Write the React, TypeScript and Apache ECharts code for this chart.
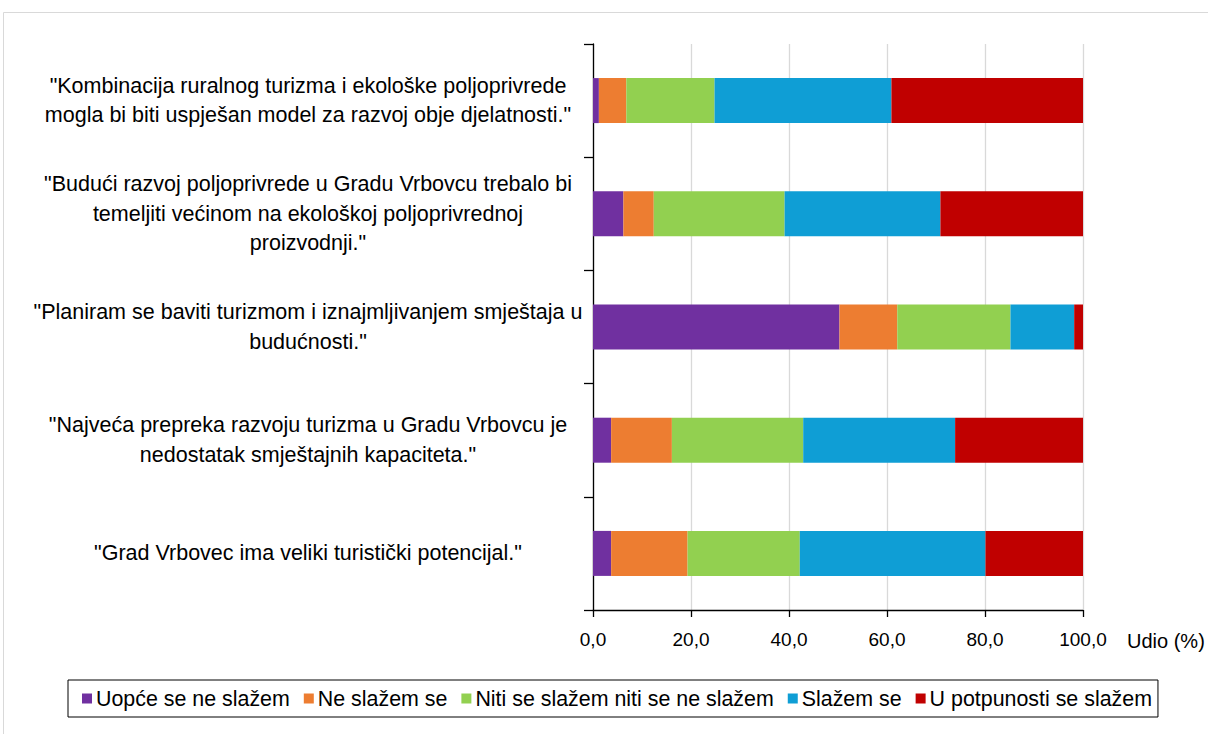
import React, { useEffect, useRef } from "react";
import * as echarts from "echarts";

const categories = [
  '"Kombinacija ruralnog turizma i ekološke poljoprivrede\nmogla bi biti uspješan model za razvoj obje djelatnosti."',
  '"Budući razvoj poljoprivrede u Gradu Vrbovcu trebalo bi\ntemeljiti većinom na ekološkoj poljoprivrednoj\nproizvodnji."',
  '"Planiram se baviti turizmom i iznajmljivanjem smještaja u\nbudućnosti."',
  '"Najveća prepreka razvoju turizma u Gradu Vrbovcu je\nnedostatak smještajnih kapaciteta."',
  '"Grad Vrbovec ima veliki turistički potencijal."',
];

const seriesNames = [
  "Uopće se ne slažem",
  "Ne slažem se",
  "Niti se slažem niti se ne slažem",
  "Slažem se",
  "U potpunosti se slažem",
];

const uopce = [1.2, 6.2, 50.3, 3.7, 3.7];
const neSlazem = [5.6, 6.2, 11.8, 12.4, 15.6];
const niti = [18.0, 26.7, 23.1, 26.8, 22.9];
const slazem = [36.1, 31.8, 13.0, 31.0, 37.9];
const potpuno = [39.1, 29.1, 1.8, 26.1, 19.9];

const seriesValues = [uopce, neSlazem, niti, slazem, potpuno];
const colors = ["#7030a0", "#ed7d31", "#92d050", "#0f9ed5", "#c00000"];

const FONT = "'Liberation Sans', Arial, sans-serif";

export default function App() {
  const ref = useRef<HTMLDivElement>(null);
  useEffect(() => {
    if (!ref.current) return;
    const chart = echarts.init(ref.current, undefined, { renderer: "svg" });
    chart.setOption({
      animation: false,
      backgroundColor: "#ffffff",
      textStyle: { fontFamily: FONT },
      graphic: [
        {
          type: "rect",
          shape: { x: 3.5, y: 12.5, width: 1240, height: 760 },
          style: { fill: "none", stroke: "#d9d9d9", lineWidth: 1 },
          silent: true,
        },
        {
          type: "text",
          left: 1127,
          top: 631,
          style: { text: "Udio (%)", fontSize: 20, fill: "#000", fontFamily: FONT },
        },
      ],
      legend: {
        left: 68,
        top: 680,
        data: seriesNames,
        borderColor: "#000",
        borderWidth: 1,
        padding: [8, 6, 8, 14],
        itemWidth: 10,
        itemHeight: 10,
        itemGap: 14,
        icon: "rect",
        textStyle: { fontSize: 21.4, color: "#000", fontFamily: FONT, padding: [0, 0, 0, -1] },
      },
      grid: { left: 593, right: 125, top: 44, bottom: 124, containLabel: false },
      xAxis: {
        type: "value",
        min: 0,
        max: 100,
        interval: 20,
        axisLine: { show: true, lineStyle: { color: "#000", width: 1.3 } },
        axisTick: { show: true, length: 7, lineStyle: { color: "#000", width: 1.3 } },
        splitLine: { show: true, lineStyle: { color: "#d9d9d9", width: 1.3 } },
        axisLabel: {
          fontSize: 19,
          color: "#000",
          margin: 20,
          fontFamily: FONT,
          formatter: (v: number) => v.toFixed(1).replace(".", ","),
        },
      },
      yAxis: {
        type: "category",
        inverse: true,
        data: categories,
        axisLine: { show: true, lineStyle: { color: "#000", width: 1.3 } },
        axisTick: { show: true, length: 9, lineStyle: { color: "#000", width: 1.3 } },
        axisLabel: {
          fontSize: 21.5,
          color: "#000",
          align: "center",
          margin: 285,
          lineHeight: 29.5,
          fontFamily: FONT,
        },
      },
      series: seriesNames.map((name, i) => ({
        name,
        type: "bar",
        stack: "total",
        barWidth: 45,
        data: seriesValues[i],
        itemStyle: { color: colors[i] },
      })),
    });
    return () => chart.dispose();
  }, []);
  return (
    <div
      ref={ref}
      style={{ position: "absolute", left: 0, top: 0, width: 1208, height: 734 }}
    />
  );
}
